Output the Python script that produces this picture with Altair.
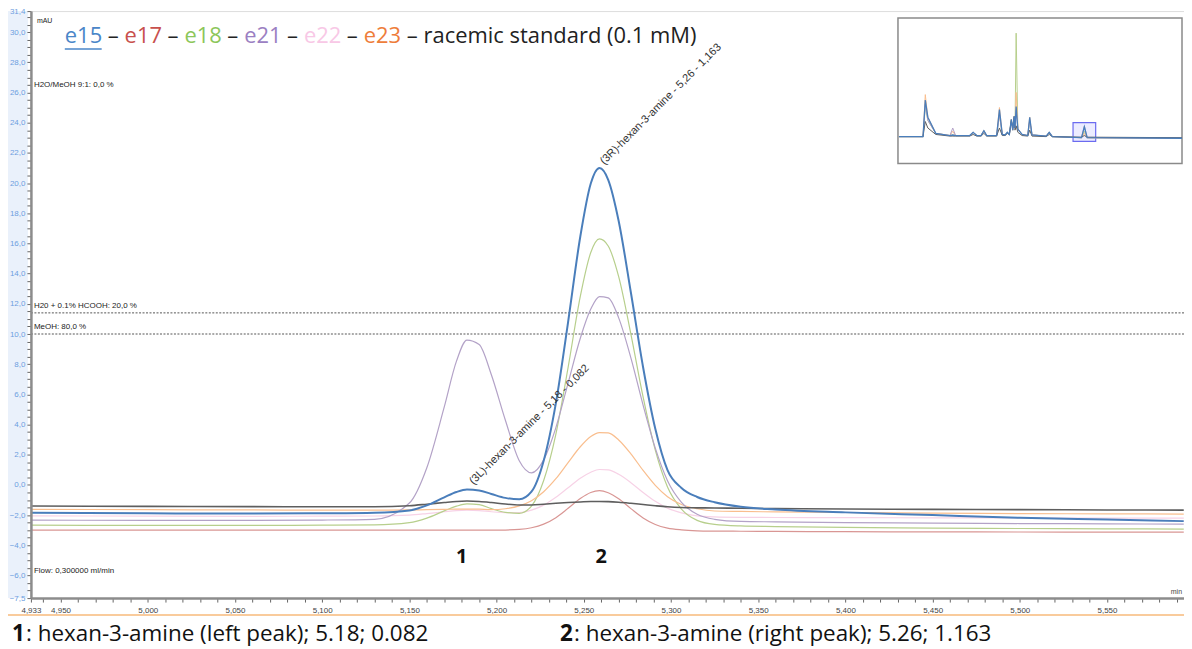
import altair as alt
import pandas as pd

# ---------------- data ----------------
TIME = [4.933, 5.00, 5.06, 5.10, 5.13, 5.15, 5.16, 5.17, 5.177, 5.183, 5.19, 5.197, 5.205,
        5.213, 5.22, 5.227, 5.234, 5.241, 5.248, 5.254, 5.259, 5.264, 5.27, 5.277, 5.284,
        5.291, 5.298, 5.306, 5.315, 5.325, 5.34, 5.36, 5.40, 5.45, 5.50, 5.55, 5.594]
E15 = [-1.85, -1.88, -1.9, -1.88, -1.84, -1.69, -1.36, -0.82, -0.47, -0.31, -0.37, -0.6, -0.86,
       -0.95, -0.45, 1.6, 5.42, 10.79, 16.46, 19.97, 21.0, 20.22, 17.49, 12.75, 7.8,
       3.72, 0.98, -0.2, -0.8, -1.15, -1.45, -1.63, -1.82, -2.0, -2.18, -2.3, -2.4]
E17 = [-3.0, -3.0, -3.0, -3.0, -3.0, -3.0, -3.0, -3.0, -3.0, -3.0, -3.0, -3.0, -2.99,
       -2.95, -2.84, -2.6, -2.17, -1.55, -0.9, -0.5, -0.38, -0.52, -0.92, -1.57, -2.19,
       -2.62, -2.86, -2.98, -3.04, -3.06, -3.07, -3.08, -3.1, -3.11, -3.12, -3.13, -3.13]
E18 = [-2.67, -2.68, -2.68, -2.67, -2.65, -2.5, -2.2, -1.72, -1.41, -1.26, -1.31, -1.57, -1.82,
       -1.88, -1.4, 0.29, 3.37, 7.78, 12.49, 15.4, 16.3, 15.83, 13.8, 10.0, 5.83,
       2.3, -0.14, -1.6, -2.35, -2.62, -2.72, -2.76, -2.82, -2.86, -2.89, -2.91, -2.93]
E21 = [-2.33, -2.35, -2.35, -2.33, -2.28, -1.2, 1.14, 5.17, 8.2, 9.6, 9.3, 7.3, 4.3,
       1.6, 0.8, 1.66, 3.8, 6.75, 9.72, 11.65, 12.48, 12.39, 11.07, 8.42, 5.29,
       2.44, 0.28, -1.15, -1.95, -2.28, -2.42, -2.45, -2.5, -2.53, -2.56, -2.58, -2.6]
E22 = [-2.05, -2.07, -2.08, -2.07, -2.06, -2.0, -1.9, -1.78, -1.7, -1.67, -1.7, -1.78, -1.84,
       -1.83, -1.67, -1.34, -0.82, -0.19, 0.44, 0.84, 1.02, 1.0, 0.7, 0.15, -0.5,
       -1.09, -1.54, -1.85, -2.05, -2.12, -2.15, -2.16, -2.17, -2.18, -2.19, -2.2, -2.2]
E23 = [-1.62, -1.64, -1.66, -1.67, -1.67, -1.66, -1.64, -1.62, -1.6, -1.6, -1.61, -1.64, -1.58,
       -1.39, -1.05, -0.45, 0.41, 1.48, 2.53, 3.21, 3.47, 3.45, 2.98, 2.06, 0.96,
       -0.03, -0.78, -1.3, -1.58, -1.73, -1.76, -1.79, -1.83, -1.87, -1.9, -1.92, -1.93]
RAC = [-1.4, -1.42, -1.44, -1.45, -1.45, -1.38, -1.28, -1.17, -1.1, -1.07, -1.1, -1.17, -1.27,
       -1.33, -1.33, -1.28, -1.22, -1.17, -1.13, -1.1, -1.1, -1.11, -1.15, -1.22, -1.3,
       -1.38, -1.45, -1.5, -1.52, -1.53, -1.55, -1.57, -1.6, -1.62, -1.64, -1.66, -1.67]

SERIES_NAMES = ["e22", "e17", "e18", "e23", "e21", "racemic standard", "e15"]
SERIES_VALUES = [E22, E17, E18, E23, E21, RAC, E15]

# overview inset (full chromatogram, arbitrary time units)
T_IN = [0, 0.85, 0.93, 1.02, 1.3, 1.8, 1.9, 2.0, 2.5, 2.62, 2.75, 2.9, 3.0, 3.1, 3.45, 3.55,
        3.65, 3.75, 3.83, 3.9, 3.97, 4.02, 4.07, 4.1, 4.14, 4.2, 4.35, 4.55, 4.62, 4.7, 5.2,
        5.31, 5.42, 6.45, 6.55, 6.65, 10]
IN_E15 = [0, 0, 34, 18, 3, 1, 1.5, 1, 1, 4, 1, 1, 5.5, 1, 1, 25, 2, 1.5, 4, 2, 16, 6, 19, 8, 28,
          7, 2, 1, 18, 1.5, 0.5, 4, 0, -1, 9, -1, -1.5]
IN_E23 = [0, 0, 39, 18, 3, 1, 5, 1, 1, 4, 1, 1, 5.5, 1, 1, 27, 2, 1.5, 4, 2, 16, 6, 19, 8, 41,
          7, 2, 1, 18, 1.5, 0.5, 4, 0, -1, 3, -1, -1.5]
IN_E18 = [0, 0, 28, 15, 3, 1, 1.5, 1, 1, 4, 1, 1, 5.5, 1, 1, 20, 2, 1.5, 4, 2, 16, 6, 19, 8, 96,
          7, 2, 1, 15, 1.5, 0.5, 4, 0, -1, 5, -1, -1.5]
IN_E21 = [0, 0, 30, 15, 3, 1, 8, 1, 1, 4, 1, 1, 5.5, 1, 1, 20, 2, 1.5, 4, 2, 14, 6, 17, 8, 24,
          7, 2, 1, 15, 1.5, 0.5, 4, 0, -1, 10, -1, -1.5]
IN_RAC = [0, 0, 14, 8, 2, 0.5, 0.5, 0.5, 0.5, 2, 0.5, 0.5, 3, 0.5, 0.5, 8, 1, 1, 3, 2, 15, 8,
          18, 6, 10, 4, 1, 0.5, 6, 0.5, 0, 2, 0, -0.5, 1, -0.5, -1]
IN_NAMES = ["e18", "e23", "e21", "racemic standard", "e15"]
IN_VALUES = [IN_E18, IN_E23, IN_E21, IN_RAC, IN_E15]
IN_BOX = {"t1": [6.15], "t2": [6.95], "v1": [-4.5], "v2": [13.0]}

GRADIENT_LABELS = ["H20 + 0.1% HCOOH: 20,0 %", "MeOH: 80,0 %", "H2O/MeOH 9:1: 0,0 %",
                   "Flow: 0,300000 ml/min"]
GRADIENT_LABEL_LEVELS = [11.85, 10.45, 26.47, -5.73]
GRADIENT_LEVELS = [11.4, 10.0]

PEAK_LABELS = ["(3R)-hexan-3-amine - 5,26 - 1,163", "(3L)-hexan-3-amine - 5,18 - 0,082"]
PEAK_TIMES = [5.2625, 5.1875]
PEAK_HEIGHTS = [21.1, -0.1]
PEAK_NUMBERS = ["1", "2"]
PEAK_NUMBER_TIMES = [5.180, 5.260]

LEGEND_NAMES = ["e15", "e17", "e18", "e21", "e22", "e23", "racemic standard (0.1 mM)"]
LEGEND_SEP = "–"
CAPTIONS = [("1", ": hexan-3-amine (left peak); 5.18; 0.082"),
            ("2", ": hexan-3-amine (right peak); 5.26; 1.163")]

# ---------------- styles ----------------
LINE_STYLE = {
    "e15": ("#4A7EBB", 2.0), "e17": ("#D99694", 1.2), "e18": ("#B7CF8C", 1.2),
    "e21": ("#B3A2C7", 1.2), "e22": ("#F7D2E6", 1.2), "e23": ("#F9BE8E", 1.2),
    "racemic standard": ("#5E5E5E", 1.6),
}
LEGEND_COLORS = ["#4A86C8", "#C8504D", "#8CC65A", "#9B80C2", "#F8C8E6", "#EE7D3A", "#222222"]
LEGEND_X = [34, 94, 154, 214, 274, 334, 394]                 # left edge of each name (plot px)
SEP_X = [82.5, 142.5, 202.5, 262.5, 322.5, 382.5]            # centre of each dash (plot px)

W, H = 1157, 589
X_MAX = 4.933 + W / 1750.0
FONT = "Liberation Sans"

XT = [4.933] + [round(4.94 + 0.01 * i, 3) for i in range(66)]
YT = [-7.5] + [round(-7 + 0.5 * i, 1) for i in range(77)] + [31.4]

X_SCALE = alt.Scale(domain=[4.933, X_MAX], nice=False, zero=False)
Y_SCALE = alt.Scale(domain=[-7.5, 31.4], nice=False, zero=False)

x_axis = alt.Axis(
    values=XT, title=None, grid=False, labelOverlap=False, labelFlush=False, zindex=2,
    labelExpr="datum.value == 4.933 || abs(datum.value*20 - round(datum.value*20)) < 0.001 ? replace(format(datum.value, '.3f'), '.', ',') : ''",
    labelFontSize=8, labelColor="#444444", labelFont=FONT, labelPadding=4,
    tickSize=4, tickColor="#666666", domainColor="#8c8c8c", domainWidth=2.5)
y_axis = alt.Axis(
    values=YT, title=None, grid=False, labelOverlap=False, labelFlush=False, zindex=2,
    labelExpr="datum.value == -7.5 || datum.value == 31.4 || abs(datum.value/2 - round(datum.value/2)) < 0.001 ? replace(format(datum.value, '.1f'), '.', ',') : ''",
    labelFontSize=8, labelColor="#6D9EE0", labelFont=FONT, labelPadding=2,
    tickSize=4, tickColor="#666666", domainColor="#8c8c8c", domainWidth=2.5)

X = alt.X("t:Q", scale=X_SCALE, axis=x_axis)
Y = alt.Y("v:Q", scale=Y_SCALE, axis=y_axis)

main_layers = []

# light blue strip behind the y-axis labels
main_layers.append(
    alt.Chart(pd.DataFrame({"a": [0]})).mark_rect(color="#EAF1FB").encode(
        x=alt.value(-23), x2=alt.value(-3), y=alt.value(0), y2=alt.value(H)))

# gradient lines
main_layers.append(
    alt.Chart(pd.DataFrame({"v": GRADIENT_LEVELS})).mark_rule(
        color="#555555", strokeWidth=1, strokeDash=[2, 1.5]).encode(y=Y))

# chromatogram traces
for name, vals in zip(SERIES_NAMES, SERIES_VALUES):
    col, wid = LINE_STYLE[name]
    df = pd.DataFrame({"t": TIME, "v": vals})
    main_layers.append(
        alt.Chart(df).mark_line(interpolate="monotone", color=col, strokeWidth=wid).encode(x=X, y=Y))

# gradient / flow text
main_layers.append(
    alt.Chart(pd.DataFrame({"label": GRADIENT_LABELS, "v": GRADIENT_LABEL_LEVELS}))
    .mark_text(align="left", baseline="middle", fontSize=8, font=FONT, color="#222222")
    .encode(x=alt.value(3), y=Y, text="label:N"))
main_layers.append(
    alt.Chart(pd.DataFrame({"label": ["mAU"]})).mark_text(
        align="left", baseline="middle", fontSize=7, font=FONT, color="#222222")
    .encode(x=alt.value(6), y=alt.value(10), text="label:N"))
main_layers.append(
    alt.Chart(pd.DataFrame({"label": ["min"]})).mark_text(
        align="right", baseline="middle", fontSize=7, font=FONT, color="#444444")
    .encode(x=alt.value(W - 2), y=alt.value(H - 6), text="label:N"))

# peak annotations
main_layers.append(
    alt.Chart(pd.DataFrame({"label": PEAK_LABELS, "t": PEAK_TIMES, "v": PEAK_HEIGHTS}))
    .mark_text(align="left", baseline="bottom", angle=315, fontSize=11, font=FONT,
               color="#333333")
    .encode(x=X, y=Y, text="label:N"))
main_layers.append(
    alt.Chart(pd.DataFrame({"label": PEAK_NUMBERS, "t": PEAK_NUMBER_TIMES, "v": [-4.8, -4.8]}))
    .mark_text(align="center", baseline="middle", fontSize=20, fontWeight="bold",
               font="Open Sans", color="#111111")
    .encode(x=X, y=Y, text="label:N"))

# coloured title line
for tok, col, px in zip(LEGEND_NAMES, LEGEND_COLORS, LEGEND_X):
    main_layers.append(
        alt.Chart(pd.DataFrame({"label": [tok]})).mark_text(
            align="left", baseline="middle", fontSize=22, font="Open Sans", color=col)
        .encode(x=alt.value(px), y=alt.value(25), text="label:N"))
for px in SEP_X:
    main_layers.append(
        alt.Chart(pd.DataFrame({"label": [LEGEND_SEP]})).mark_text(
            align="center", baseline="middle", fontSize=22, font="Open Sans", color="#222222")
        .encode(x=alt.value(px), y=alt.value(25), text="label:N"))
main_layers.append(
    alt.Chart(pd.DataFrame({"a": [0]})).mark_rule(color="#4A86C8", strokeWidth=1.5).encode(
        x=alt.value(34), x2=alt.value(71), y=alt.value(38)))

# bottom separator and caption
main_layers.append(
    alt.Chart(pd.DataFrame({"a": [0]})).mark_rule(color="#F9CB9C", strokeWidth=2).encode(
        x=alt.value(-23), x2=alt.value(W), y=alt.value(606)))
for (num, txt), px in zip(CAPTIONS, [-19, 531]):
    main_layers.append(
        alt.Chart(pd.DataFrame({"label": [num]})).mark_text(
            align="left", baseline="middle", fontSize=22.5, fontWeight="bold",
            font="Open Sans", color="#111111")
        .encode(x=alt.value(px), y=alt.value(625), text="label:N"))
    main_layers.append(
        alt.Chart(pd.DataFrame({"label": [txt]})).mark_text(
            align="left", baseline="middle", fontSize=22.5, font="Open Sans", color="#111111")
        .encode(x=alt.value(px + 14), y=alt.value(625), text="label:N"))

main = alt.layer(*main_layers)

# ---------------- inset overview ----------------
XI_SCALE = alt.Scale(domain=[0, 10], range=[871, 1155], nice=False, zero=False)
YI_SCALE = alt.Scale(domain=[-25, 110], range=[153, 7], nice=False, zero=False)
XI = alt.X("t:Q", scale=XI_SCALE, axis=None)
YI = alt.Y("v:Q", scale=YI_SCALE, axis=None)
inset_layers = [
    alt.Chart(pd.DataFrame({"a": [0]})).mark_rect(fill="white", stroke="#8a8a8a", strokeWidth=1.5)
    .encode(x=alt.value(870), x2=alt.value(1155), y=alt.value(7), y2=alt.value(153)),
    alt.Chart(pd.DataFrame(IN_BOX)).mark_rect(fill="#ECECFF", stroke="#6B6BF0", strokeWidth=1.2)
    .encode(x=alt.X("t1:Q", scale=XI_SCALE, axis=None), x2="t2:Q",
            y=alt.Y("v1:Q", scale=YI_SCALE, axis=None), y2="v2:Q"),
]
for name, vals in zip(IN_NAMES, IN_VALUES):
    col, wid = LINE_STYLE[name]
    inset_layers.append(
        alt.Chart(pd.DataFrame({"t": T_IN, "v": vals})).mark_line(
            color=col, strokeWidth=1.3 if name == "e15" else 1.0).encode(x=XI, y=YI))
inset = alt.layer(*inset_layers)

chart = (
    alt.layer(main, inset)
    .resolve_scale(x="independent", y="independent")
    .properties(width=W, height=H, autosize=alt.AutoSizeParams(type="none"),
                padding={"left": 23, "top": 2, "right": 0, "bottom": 52})
    .configure_view(stroke="#9a9a9a", strokeWidth=1.5)
    .configure(background="white")
)

chart.save("out.html", embed_options={"renderer": "svg", "actions": False})
